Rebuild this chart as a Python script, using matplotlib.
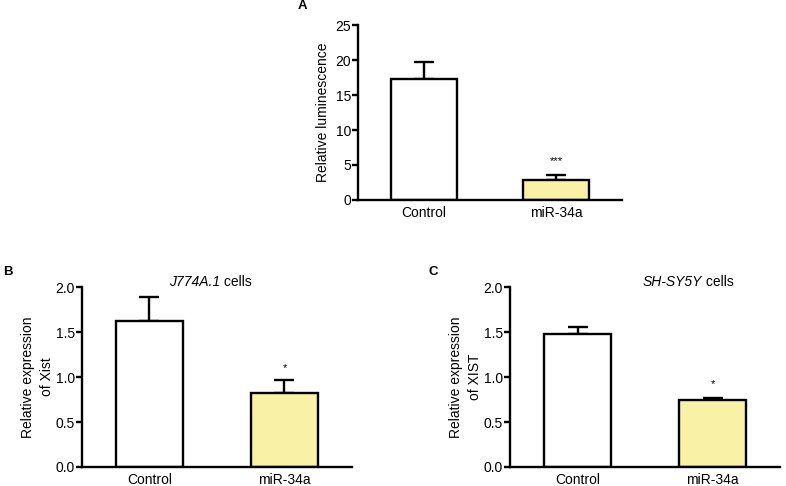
import matplotlib
matplotlib.use("Agg")
from matplotlib import pyplot as plt

plt.rcParams['font.family'] = ['Liberation Sans', 'DejaVu Sans']

# data
grupos = ["Control", "miR-34a"]
lum_media = [17.3, 2.86]
lum_err = [2.37, 0.66]
xist_j774_media = [1.62, 0.82]
xist_j774_err = [0.27, 0.15]
xist_sh_media = [1.48, 0.75]
xist_sh_err = [0.08, 0.02]
colores = ["white", "#f9f1a5"]
estrellas_a = "***"
estrellas_b = "*"
estrellas_c = "*"

FS = 10
LW = 1.7


def panel(fig, rect, medias, errs, ylim, ticks, fmt, ylabel, pad_label, estrellas, y_estrella):
    ax = fig.add_axes(rect)
    x = range(len(grupos))
    ax.bar(x, medias, width=0.5, color=colores, edgecolor="black", linewidth=LW, zorder=2)
    ax.errorbar(x, medias, yerr=[[0] * len(errs), errs], fmt="none", ecolor="black",
                elinewidth=LW, capsize=7, capthick=LW, zorder=1)
    ax.set_xlim(-0.5, 1.5)
    ax.set_ylim(*ylim)
    ax.set_yticks(ticks)
    ax.set_yticklabels([fmt.format(t) for t in ticks], fontsize=FS)
    ax.set_xticks(list(x))
    ax.set_xticklabels(grupos, fontsize=FS)
    ax.tick_params(axis="x", length=0, pad=4)
    ax.tick_params(axis="y", length=4, width=LW, pad=1)
    for s in ["top", "right"]:
        ax.spines[s].set_visible(False)
    for s in ["left", "bottom"]:
        ax.spines[s].set_linewidth(LW)
    ax.set_ylabel(ylabel, fontsize=FS, labelpad=pad_label, linespacing=1.45)
    ax.text(1, y_estrella, estrellas, ha="center", va="center", fontsize=8)
    return ax


def titulo(ax, xc, cursiva, resto):
    t = ax.text(xc, 1.03, cursiva, transform=ax.transAxes, ha="right", va="center",
                fontsize=FS, fontstyle="italic")
    ax.annotate(resto, xy=(1, 0), xycoords=t, ha="left", va="bottom", fontsize=FS)


fig = plt.figure(figsize=(7.86, 4.86), dpi=100)

ax_a = panel(fig, [0.4555, 0.5885, 0.336, 0.360], lum_media, lum_err, (0, 25),
             [0, 5, 10, 15, 20, 25], "{:.0f}", "Relative luminescence", 4, estrellas_a, 5.6)
ax_b = panel(fig, [0.1043, 0.0391, 0.3435, 0.370], xist_j774_media, xist_j774_err, (0, 2.0),
             [0.0, 0.5, 1.0, 1.5, 2.0], "{:.1f}", "Relative expression\nof Xist", 1.5, estrellas_b, 1.10)
ax_c = panel(fig, [0.6489, 0.0391, 0.3435, 0.370], xist_sh_media, xist_sh_err, (0, 2.0),
             [0.0, 0.5, 1.0, 1.5, 2.0], "{:.1f}", "Relative expression\nof XIST", 1.5, estrellas_c, 0.92)

titulo(ax_b, 0.51, "J774A.1", " cells")
titulo(ax_c, 0.71, "SH-SY5Y", " cells")

fig.text(302 / 786, 1 - 6 / 486, "A", fontsize=9.5, fontweight="bold", ha="center", va="center")
fig.text(8 / 786, 1 - 272 / 486, "B", fontsize=9.5, fontweight="bold", ha="center", va="center")
fig.text(433 / 786, 1 - 272 / 486, "C", fontsize=9.5, fontweight="bold", ha="center", va="center")

fig.savefig("out.png", dpi=100)
